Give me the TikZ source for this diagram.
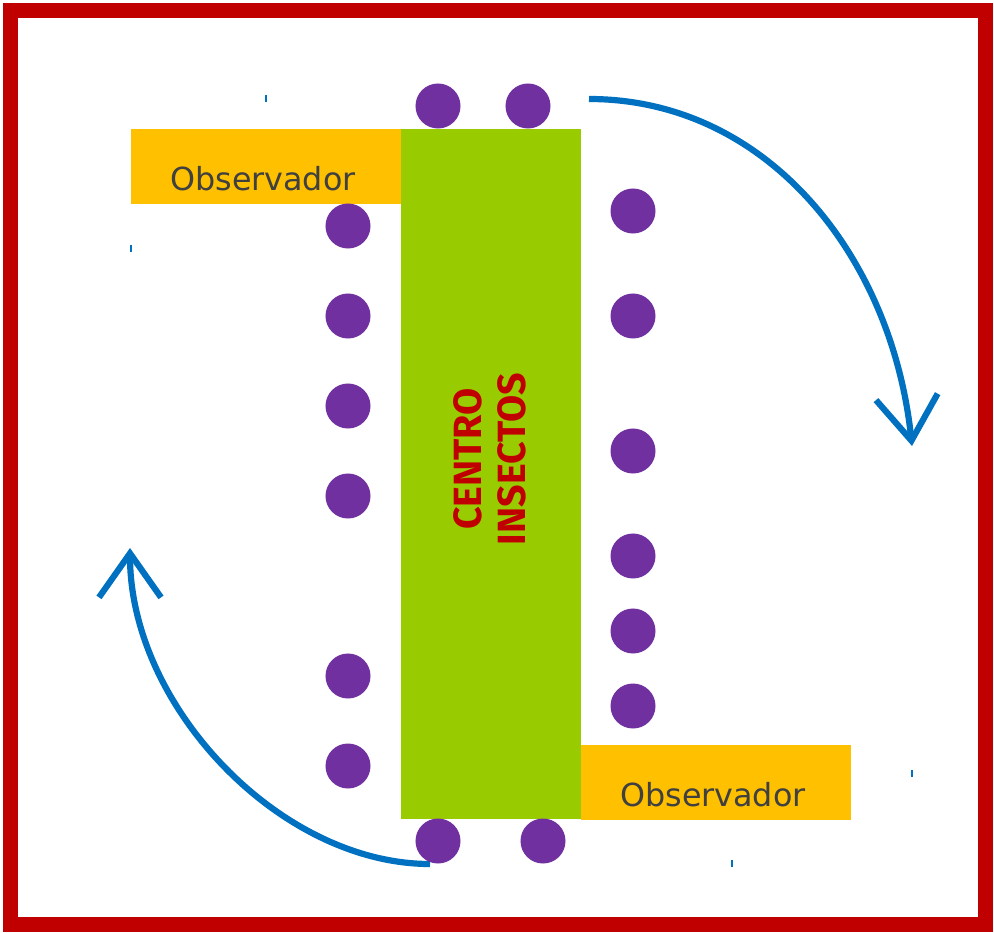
\documentclass[tikz,border=0pt]{standalone}
\usepackage{fontspec}
\setmainfont{DejaVu Sans}
\newfontfamily\centrofont{Fira Sans}
\usepackage{xcolor}
\usetikzlibrary{
    arrows.meta,
    shapes,
    positioning,
    calc
}
\definecolor{rojo}{HTML}{C00000}
\definecolor{verde}{HTML}{99CC00}
\definecolor{naranja}{HTML}{FFC000}
\definecolor{morado}{HTML}{7030A0}
\definecolor{azul}{HTML}{0070C0}
\definecolor{gris}{HTML}{404040}

\begin{document}
\begin{tikzpicture}[x=0.025cm, y=-0.025cm,
    bicho/.style={circle, fill=morado, minimum size=1.125cm, inner sep=0pt},
    observador/.style={fill=naranja, anchor=north west, inner sep=0pt,
        text width=6.75cm, align=center, text height=1.525cm, text depth=0.35cm,
        text=gris, font=\fontsize{22.6}{28}\selectfont},
    giro/.style={draw=azul, line width=0.155cm,
        -{Straight Barb[length=1.1cm, width=1.55cm]}},
    marca/.style={draw=azul, line width=0.04cm}]
                \useasboundingbox (0,0) rectangle (994,933);
                \draw[rojo, line width=0.375cm] (10.5,10.5) rectangle (985.5,924.5);
                % centro y observadores
                \node[fill=verde, anchor=north west, inner sep=0pt,
                    minimum width=4.5cm, minimum height=17.25cm] (centro) at (401,129) {};
                \node[rotate=90, align=center, text=rojo,
                    font=\centrofont\bfseries\fontsize{28}{31.4}\selectfont] (nombre) at (490,459) {CENTRO\\INSECTOS};
                \node[observador] (obsA) at (131,129) {Observador\hspace*{0.17cm}};
                \node[observador] (obsB) at (581,745) {Observador\hspace*{0.17cm}};
                % flechas de giro
                \coordinate (a1) at (589,99);
                \coordinate (a2) at (912,446);
                \coordinate (b1) at (430,864);
                \coordinate (b2) at (130,548);
                \draw[giro] (a1) .. controls +(178,0) and +(-20,-190) .. (a2);
                \draw[giro] (b1) .. controls +(-150,0) and +(0,158) .. (b2);
                % insectos
                \foreach \y [count=\i] in {226,316,406,496,676,766}
                    \node[bicho] (izq\i) at (348,\y) {};
                \foreach \y [count=\i] in {211,316,451,556,631,706}
                    \node[bicho] (der\i) at (633,\y) {};
                \node[bicho] (arr1) at (438,106) {};
                \node[bicho] (arr2) at (528,106) {};
                \node[bicho] (aba1) at (438,841) {};
                \node[bicho] (aba2) at (543,841) {};
                % marcas sueltas
                \draw[marca] (266,95) -- (266,102);
                \draw[marca] (131,245) -- (131,252);
                \draw[marca] (912,770) -- (912,777);
                \draw[marca] (732,860) -- (732,867);
            \end{tikzpicture}
\end{document}
